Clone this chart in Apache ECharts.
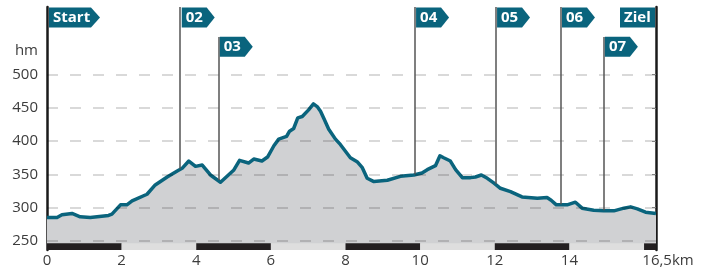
<!DOCTYPE html>
<html>
<head>
<meta charset="utf-8">
<script src="https://cdn.jsdelivr.net/npm/echarts@6/dist/echarts.min.js"></script>
<style>
  html, body { margin: 0; padding: 0; background: #fff; }
  #chart { width: 708px; height: 268px; }
</style>
</head>
<body>
<div id="chart"></div>
<script>
// Höhenprofil (km / hm)
const distKm = [0, 0.27, 0.4, 0.67, 0.89, 1.16, 1.65, 1.74, 1.97, 2.14, 2.28, 2.68, 2.9, 3.22, 3.49, 3.62, 3.8, 3.98, 4.16, 4.38, 4.65, 5.0, 5.16, 5.4, 5.54, 5.76, 5.91, 6.08, 6.21, 6.42, 6.5, 6.61, 6.72, 6.84, 7.01, 7.14, 7.24, 7.33, 7.42, 7.55, 7.73, 7.86, 8.13, 8.31, 8.45, 8.58, 8.76, 9.12, 9.47, 9.83, 10.05, 10.19, 10.41, 10.53, 10.63, 10.81, 10.95, 11.13, 11.35, 11.48, 11.64, 11.8, 11.97, 12.15, 12.42, 12.73, 13.14, 13.4, 13.51, 13.65, 13.94, 14.16, 14.34, 14.65, 14.92, 15.19, 15.46, 15.64, 15.82, 16.04, 16.32];
const elevation = [285, 285, 289, 291, 286, 285, 288, 290, 304, 304, 310, 320, 334, 346, 355, 359, 370, 362, 364, 349, 338, 356, 371, 367, 373, 370, 376, 393, 403, 407, 415, 419, 435, 437, 447, 456, 452, 445, 434, 418, 403, 395, 375, 369, 360, 344, 339, 341, 347, 349, 352, 357, 363, 378, 375, 370, 357, 345, 345, 346, 349, 344, 337, 329, 324, 316, 314, 315, 311, 304, 304, 308, 299, 296, 295, 295, 299, 301, 298, 293, 291];

const totalKm = 16.32;
const yTicks = [250, 300, 350, 400, 450, 500];
const xTicks = [0, 2, 4, 6, 8, 10, 12, 14, totalKm];
const scaleSteps = [0, 2, 4, 6, 8, 10, 12, 14, 16, totalKm];

// Wegpunkte
const waypointNames = ['Start', '02', '03', '04', '05', '06', '07', 'Ziel'];
const waypointKm = [0, 3.57, 4.59, 9.85, 12.02, 13.76, 14.91, totalKm];
const waypointRow = [0, 0, 1, 0, 0, 0, 1, 0];

const Y_MIN = 236;
const Y_MAX = 602;
const rowFlagY = [586, 542];
const rowLineTop = [602, 557];
const BAR_TOP = 246;

const teal = '#0a647d';
const fillGray = '#d0d1d3';
const font = '"Open Sans", "Noto Sans", sans-serif';

function elevAt(km) {
  for (let i = 1; i < distKm.length; i++) {
    if (km <= distKm[i]) {
      const t = (km - distKm[i - 1]) / (distKm[i] - distKm[i - 1]);
      return elevation[i - 1] + t * (elevation[i] - elevation[i - 1]);
    }
  }
  return elevation[elevation.length - 1];
}

const profile = distKm.map((d, i) => [d, elevation[i]]);

const scaleBar = [];
for (let i = 0; i < scaleSteps.length - 1; i++) {
  scaleBar.push([scaleSteps[i], scaleSteps[i + 1], Y_MIN, BAR_TOP, i % 2 === 0 ? 1 : 0]);
}

const markerLines = [];
const flags = [];
waypointNames.forEach((name, i) => {
  const km = waypointKm[i];
  const row = waypointRow[i];
  if (name !== 'Start' && name !== 'Ziel') {
    markerLines.push([{ coord: [km, rowLineTop[row]] }, { coord: [km, elevAt(km) + 1] }]);
  }
  let symbol, w, offset;
  if (name === 'Start') {
    w = 51;
    symbol = 'path://M0,0L42,0L51,10L42,20L0,20Z';
    offset = 2 + w / 2;
  } else if (name === 'Ziel') {
    w = 35;
    symbol = 'rect';
    offset = -(w / 2 + 1);
  } else {
    w = 33;
    symbol = 'path://M0,0L25,0L33,10L25,20L0,20Z';
    offset = 1.5 + w / 2;
  }
  flags.push({
    name: name,
    value: [km, rowFlagY[row]],
    symbol: symbol,
    symbolSize: [w, 20],
    symbolOffset: [offset, 0],
  });
});

const chart = echarts.init(document.getElementById('chart'), null, { renderer: 'canvas' });

chart.setOption({
  animation: false,
  backgroundColor: '#fff',
  grid: { left: 47, right: 52, top: 7, bottom: 18 },
  xAxis: {
    type: 'value',
    min: 0,
    max: totalKm,
    axisLine: { show: false },
    axisTick: { show: false },
    splitLine: { show: false },
    axisLabel: {
      customValues: xTicks,
      margin: 3,
      color: '#3c3c3c',
      fontSize: 15,
      fontFamily: font,
      formatter: (v) => (v > 16 ? '{pad| }16,5km' : String(v)),
      rich: {
        pad: { width: 24 },
      },
    },
  },
  yAxis: [
    {
      type: 'value',
      min: Y_MIN,
      max: Y_MAX,
      axisLine: { show: true, lineStyle: { color: '#1a1a1a', width: 2.5 } },
      axisTick: { show: false },
      splitLine: { show: false },
      axisLabel: {
        customValues: yTicks,
        margin: 9,
        color: '#3c3c3c',
        fontSize: 15,
        fontFamily: font,
      },
    },
    {
      type: 'value',
      position: 'right',
      min: Y_MIN,
      max: Y_MAX,
      axisLine: { show: true, lineStyle: { color: '#1a1a1a', width: 2.5 } },
      axisTick: { show: true, inside: true, length: 4, customValues: yTicks, lineStyle: { color: '#999', width: 1 } },
      axisLabel: { show: false },
      splitLine: { show: false },
    },
  ],
  graphic: [
    {
      type: 'text',
      x: 38,
      y: 51,
      style: { text: 'hm', align: 'right', verticalAlign: 'middle', fill: '#3c3c3c', font: '15px ' + font },
    },
  ],
  series: [
    {
      name: 'fill',
      type: 'line',
      data: profile,
      showSymbol: false,
      silent: true,
      lineStyle: { width: 0 },
      areaStyle: { color: fillGray, opacity: 1, origin: 'start' },
      z: 1,
      markLine: {
        silent: true,
        symbol: ['none', 'none'],
        label: { show: false },
        lineStyle: { color: 'rgba(0,0,0,0.2)', width: 1.5, type: [11, 12] },
        data: yTicks.map((v) => ({ yAxis: v })),
      },
    },
    {
      name: 'scale',
      type: 'custom',
      silent: true,
      z: 3,
      data: scaleBar,
      renderItem: (params, api) => {
        const p0 = api.coord([api.value(0), api.value(2)]);
        const p1 = api.coord([api.value(1), api.value(3)]);
        return {
          type: 'rect',
          shape: { x: p0[0], y: p1[1], width: p1[0] - p0[0], height: p0[1] - p1[1] },
          style: { fill: api.value(4) ? '#231f20' : '#dedede' },
        };
      },
    },
    {
      name: 'profil',
      type: 'line',
      data: profile,
      showSymbol: false,
      silent: true,
      lineStyle: { color: teal, width: 3.5, join: 'round' },
      z: 4,
      markLine: {
        silent: true,
        symbol: ['none', 'none'],
        label: { show: false },
        lineStyle: { color: '#555', width: 1.5, type: 'solid' },
        data: markerLines,
      },
    },
    {
      name: 'flags',
      type: 'scatter',
      silent: true,
      z: 6,
      data: flags,
      itemStyle: { color: teal, opacity: 1 },
      label: {
        show: true,
        position: 'insideLeft',
        distance: 4,
        formatter: (p) => p.name,
        color: '#fff',
        fontSize: 15,
        fontWeight: 'bold',
        fontFamily: font,
      },
    },
  ],
});
</script>
</body>
</html>
